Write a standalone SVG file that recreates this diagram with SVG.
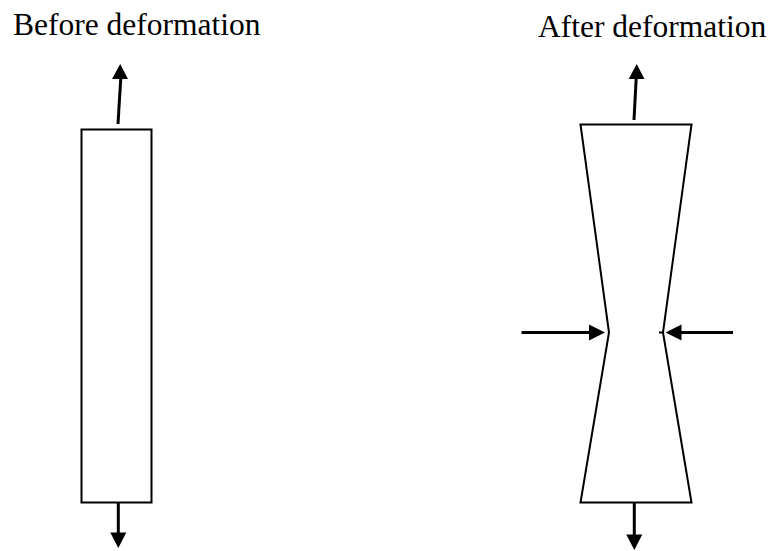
<svg xmlns="http://www.w3.org/2000/svg" width="772" height="551" viewBox="0 0 772 551">
<style>
.shape{fill:#fff;stroke:#000;stroke-width:2}
.arr{stroke:#000;stroke-width:3;fill:none}
.head{fill:#000;stroke:none}
.lbl{font-family:"Liberation Serif","Times New Roman",serif;font-size:31.5px;fill:#000}
</style>
<rect width="772" height="551" fill="#fff"/>
<g id="before">
<text class="lbl" x="13" y="35">Before deformation</text>
<rect class="shape" x="81.5" y="129.5" width="70" height="373"/>
</g>
<g id="after">
<text class="lbl" x="538" y="37">After deformation</text>
<path class="shape" d="M580.5 124.5 L691.5 124.5 L663 332.5 L691.5 502.5 L580.5 502.5 L609 332.5 Z"/>
<line x1="659" y1="332.5" x2="663" y2="332.5" stroke="#000" stroke-width="2"/>
</g>
<g id="connectors">
<line class="arr" x1="118" y1="124" x2="120.8" y2="78"/>
<polygon class="head" points="120.2,64 128,79 112,79"/>
<line class="arr" x1="118.3" y1="503" x2="118.3" y2="534"/>
<polygon class="head" points="118.3,548 110.3,532.5 126.3,532.5"/>
<line class="arr" x1="634" y1="120" x2="636.2" y2="78"/>
<polygon class="head" points="636.7,64 644.5,79 628.7,79"/>
<line class="arr" x1="634.3" y1="503" x2="634.3" y2="536"/>
<polygon class="head" points="634.3,550 626.3,534.5 642.3,534.5"/>
<line class="arr" x1="521.5" y1="332.5" x2="591" y2="332.5"/>
<polygon class="head" points="605,332.5 589,324.5 589,340.5"/>
<line class="arr" x1="733" y1="332.5" x2="680" y2="332.5"/>
<polygon class="head" points="665.5,332.5 681.5,324.5 681.5,340.5"/>
</g>
</svg>
